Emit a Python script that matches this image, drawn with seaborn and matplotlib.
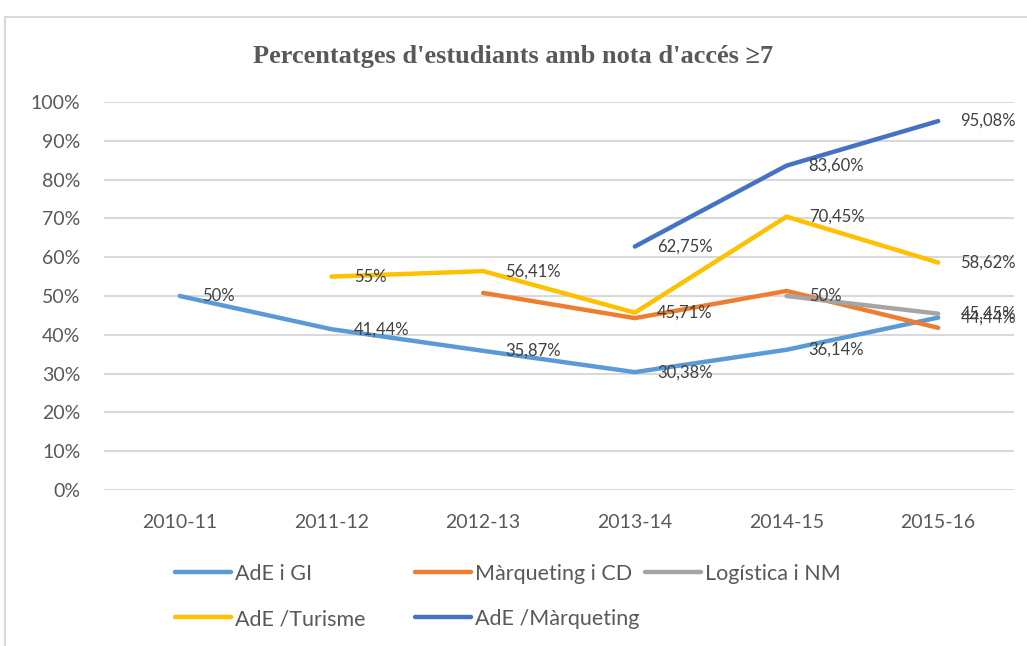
import matplotlib
matplotlib.use("Agg")
import matplotlib.pyplot as plt
import seaborn as sns
import pandas as pd
import numpy as np
from matplotlib.patches import Rectangle
from matplotlib.lines import Line2D

# ---- data ----
years = ["2010-11", "2011-12", "2012-13", "2013-14", "2014-15", "2015-16"]
ade_gi = [50.0, 41.44, 35.87, 30.38, 36.14, 44.44]
marq_cd = [np.nan, np.nan, 50.8, 44.3, 51.3, 41.8]
logis_nm = [np.nan, np.nan, np.nan, np.nan, 50.0, 45.45]
ade_tur = [np.nan, 55.0, 56.41, 45.71, 70.45, 58.62]
ade_marq = [np.nan, np.nan, np.nan, 62.75, 83.60, 95.08]

series_names = ["AdE i GI", "Màrqueting i CD", "Logística i NM", "AdE /Turisme", "AdE /Màrqueting"]
series_vals = [ade_gi, marq_cd, logis_nm, ade_tur, ade_marq]
show_labels = [True, False, True, True, True]
colors = ["#5B9BD5", "#ED7D31", "#A5A5A5", "#FFC000", "#4472C4"]
yticks = [0, 10, 20, 30, 40, 50, 60, 70, 80, 90, 100]

rows = []
for name, vals in zip(series_names, series_vals):
    for yr, v in zip(years, vals):
        rows.append({"Curs": yr, "Serie": name, "Valor": v})
df = pd.DataFrame(rows)

sns.set_theme(style="white")
plt.rcParams["font.family"] = ["Lato", "DejaVu Sans"]

fig = plt.figure(figsize=(10.27, 6.46), dpi=100)
ax = fig.add_axes([104 / 1027, 1 - 490 / 646, (1014 - 104) / 1027, (490 - 102) / 646])

# outer frame
fig.patches.append(Rectangle((5 / 1027, -0.05), 1.2, 1 - 17 / 646 + 0.05,
                             transform=fig.transFigure, fill=False,
                             edgecolor="#d9d9d9", linewidth=1.5, zorder=0))

sns.lineplot(data=df.dropna(), x="Curs", y="Valor", hue="Serie",
             hue_order=series_names, palette=colors, linewidth=3.2,
             sort=False, ax=ax, legend=False, solid_capstyle="round")

ax.set_xlim(-0.5, len(years) - 0.5)
ax.set_ylim(0, 100)
ax.set_yticks(yticks)
ax.set_yticklabels([f"{t}%" for t in yticks])
ax.set_xticks(range(len(years)))
ax.set_xticklabels(years)
ax.set_xlabel("")
ax.set_ylabel("")
ax.yaxis.grid(True, color="#d9d9d9", linewidth=1.5)
ax.set_axisbelow(True)
for s in ax.spines.values():
    s.set_visible(False)
ax.tick_params(axis="y", length=0, pad=17, labelsize=14, labelcolor="#595959")
ax.tick_params(axis="x", length=0, pad=17, labelsize=14, labelcolor="#595959")

def fmt(v):
    if abs(v - round(v)) < 1e-9:
        return f"{int(round(v))}%"
    return f"{v:.2f}".replace(".", ",") + "%"

for name, vals, show in zip(series_names, series_vals, show_labels):
    if not show:
        continue
    for i, v in enumerate(vals):
        if np.isnan(v):
            continue
        ax.annotate(fmt(v), xy=(i, v), xytext=(16, 0), textcoords="offset points",
                    ha="left", va="center", fontsize=12, color="#404040")

fig.text(0.5, 1 - 56 / 646, "Percentatges d'estudiants amb nota d'accés ≥7",
         ha="center", va="center", fontsize=19, fontweight="bold",
         color="#595959", family=["Liberation Serif", "DejaVu Serif"])

# legend (Excel-like fixed grid)
hmap = {}
for name, col in zip(series_names, colors):
    hmap[name] = Line2D([0], [0], color=col, linewidth=3.2, solid_capstyle="round")

positions = {
    "AdE i GI": (175, 574),
    "Màrqueting i CD": (415, 574),
    "Logística i NM": (645, 574),
    "AdE /Turisme": (175, 619),
    "AdE /Màrqueting": (415, 619),
}
for name in series_names:
    px, py = positions[name]
    fig.legend([hmap[name]], [name], loc="center left",
               bbox_to_anchor=(px / 1027, 1 - py / 646),
               frameon=False, borderpad=0, borderaxespad=0,
               handlelength=2.6, handletextpad=0.2,
               prop={"size": 15.5, "family": ["Lato", "DejaVu Sans"]},
               labelcolor="#595959")

fig.savefig("out.png", dpi=100)
